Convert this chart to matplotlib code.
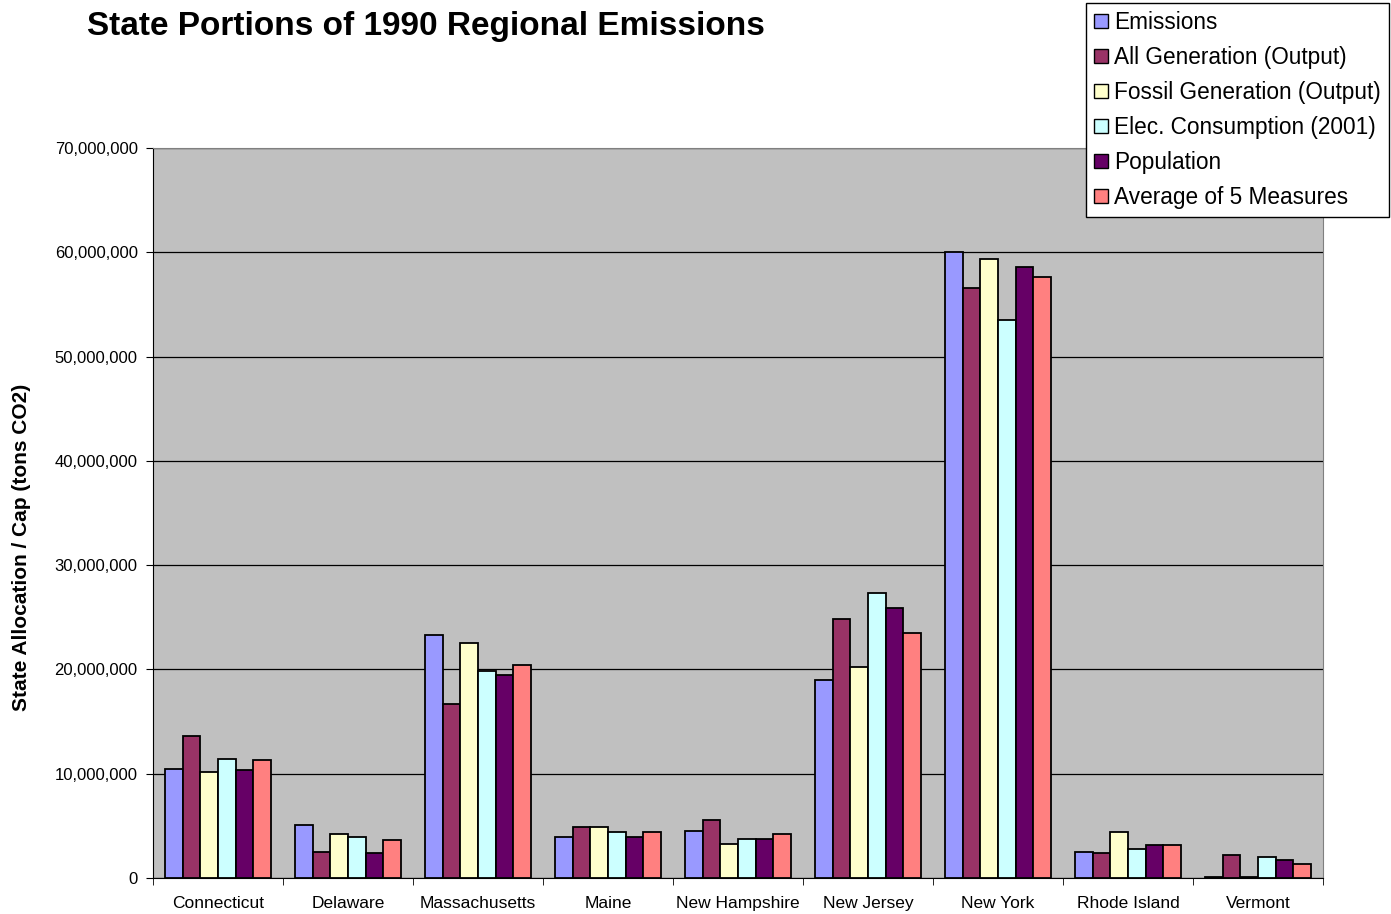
import numpy as np
import matplotlib
matplotlib.use("Agg")
import matplotlib.pyplot as plt
from matplotlib.ticker import FuncFormatter, MultipleLocator

plt.rcParams['font.family'] = ['Liberation Sans', 'DejaVu Sans']

# state allocations, tons CO2
states = ["Connecticut", "Delaware", "Massachusetts", "Maine", "New Hampshire",
          "New Jersey", "New York", "Rhode Island", "Vermont"]
series_names = ["Emissions", "All Generation (Output)", "Fossil Generation (Output)",
                "Elec. Consumption (2001)", "Population", "Average of 5 Measures"]

emissions   = [10.5, 5.1, 23.3, 3.9, 4.55, 19.0, 60.05, 2.5, 0.1]
all_gen     = [13.6, 2.5, 16.7, 4.85, 5.6, 24.85, 56.55, 2.4, 2.25]
fossil_gen  = [10.2, 4.2, 22.5, 4.85, 3.3, 20.2, 59.4, 4.4, 0.1]
elec_cons   = [11.4, 3.9, 19.85, 4.4, 3.75, 27.3, 53.5, 2.8, 2.05]
population  = [10.35, 2.35, 19.45, 3.9, 3.75, 25.9, 58.55, 3.15, 1.75]
average5    = [11.3, 3.6, 20.4, 4.4, 4.2, 23.5, 57.6, 3.15, 1.3]

colors = ["#9999FF", "#993366", "#FFFFCC", "#CCFFFF", "#660066", "#FF8080"]

values = [emissions, all_gen, fossil_gen, elec_cons, population, average5]

fig = plt.figure(figsize=(13.91, 9.14), dpi=100)
ax = fig.add_axes([153 / 1391, 36 / 914, 1170 / 1391, 730 / 914])
ax.set_facecolor("#C0C0C0")

x = np.arange(len(states))
n = len(values)
group_w = 0.81
bw = group_w / n
for i, (name, vals, c) in enumerate(zip(series_names, values, colors)):
    offs = -group_w / 2 + bw * (i + 0.5)
    ax.bar(x + offs, np.array(vals) * 1e6, width=bw, color=c, edgecolor="black",
           linewidth=1.3, label=name, zorder=3)

ax.set_xlim(-0.5, len(states) - 0.5)
ax.set_ylim(0, 70e6)
ax.yaxis.set_major_locator(MultipleLocator(10e6))
ax.yaxis.set_major_formatter(FuncFormatter(lambda v, p: f"{int(v):,}"))
ax.grid(axis="y", color="black", linewidth=0.9, zorder=1)

# category labels centred, ticks on the category boundaries
ax.set_xticks(x)
ax.set_xticklabels(states, fontsize=12.5)
ax.tick_params(axis="x", length=0, pad=13)
ax.set_xticks(np.arange(-0.5, len(states)), minor=True)
ax.tick_params(axis="x", which="minor", length=5, direction="out")
ax.tick_params(axis="y", labelsize=12, length=5, direction="out", pad=6)

for side in ["top", "right"]:
    ax.spines[side].set_color("#808080")
for side in ["left", "bottom"]:
    ax.spines[side].set_color("black")

ax.set_ylabel("State Allocation / Cap (tons CO2)", fontsize=15, fontweight="bold")
ax.yaxis.set_label_coords(-0.104, 0.453)

fig.text(87 / 1391, 1 - 27 / 914, "State Portions of 1990 Regional Emissions",
         fontsize=24, fontweight="bold", ha="left", va="center")

leg = fig.legend(loc="upper right", bbox_to_anchor=(1389 / 1391, 1 - 3 / 914),
                 fontsize=16.3, frameon=True, fancybox=False, edgecolor="black",
                 framealpha=1.0, handlelength=0.6, handleheight=0.6,
                 handletextpad=0.3, labelspacing=0.53, borderpad=0.35,
                 borderaxespad=0)
leg.get_frame().set_linewidth(1.0)
for h in leg.legend_handles:
    h.set_linewidth(1.0)

fig.savefig("out.png", dpi=100)
